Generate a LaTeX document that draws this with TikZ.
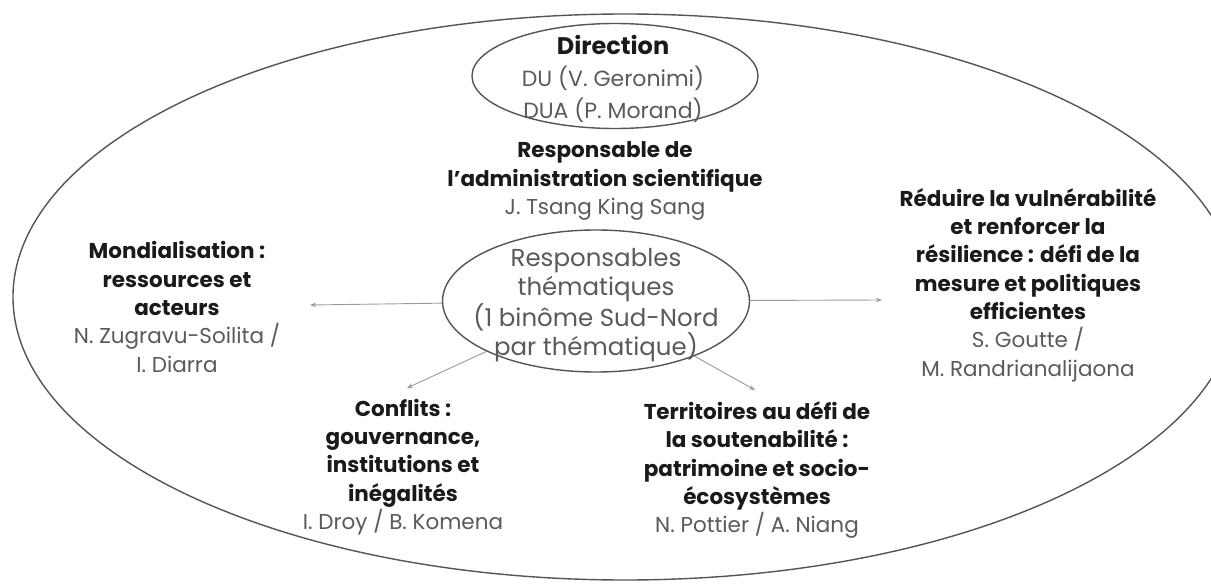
\documentclass[tikz,border=0pt]{standalone}
\usepackage{fontspec}
\setmainfont{Poppins}
\usetikzlibrary{shapes.geometric,arrows.meta}
\definecolor{ink}{HTML}{1A1A1A}
\definecolor{namegray}{HTML}{5A5A5A}
\definecolor{linegray}{HTML}{555555}
\definecolor{arrowgray}{HTML}{9A9A9A}
\tikzset{
  oval/.style={ellipse, draw=linegray, line width=1.4pt, inner sep=0pt},
  txt/.style={align=center, font=\fontsize{21.5}{28.3}\selectfont, text=ink, inner sep=0pt},
  conn/.style={draw=arrowgray, line width=0.9pt, -{Stealth[length=6pt,width=4.5pt]}},
}
\newcommand{\nm}[1]{{\color{namegray}\mdseries #1}}
\begin{document}
\begin{tikzpicture}[x=1pt,y=-1pt]
\useasboundingbox (0,0) rectangle (1211,586);
\fill[white] (0,0) rectangle (1211,586);
% outer ellipse
\node[oval, minimum width=1224pt, minimum height=566pt] (outer) at (625,297) {};
% direction ellipse
\node[oval, minimum width=286pt, minimum height=105pt] (dir) at (615,76) {};
\node[txt, font=\fontsize{22}{32}\selectfont] (dirtext) at (613,79)
  {{\fontsize{24}{32}\selectfont\bfseries Direction}\\ \nm{DU (V. Geronimi)}\\ \nm{DUA (P. Morand)}};
% administration
\node[txt] (admin) at (605,181)
  {\bfseries Responsable de\\ \bfseries l'administration scientifique\\ \nm{J. Tsang King Sang}};
% center ellipse
\node[oval, minimum width=307pt, minimum height=142pt] (ctr) at (596,301) {};
\node[txt, text=namegray, font=\fontsize{24.5}{29}\selectfont] (ctrtext) at (596,305)
  {Responsables\\ thématiques\\ (1 binôme Sud-Nord\\ par thématique)};
% themes
\node[txt] (mond) at (177,307)
  {\bfseries Mondialisation :\\ \bfseries ressources et\\ \bfseries acteurs\\ \nm{N. Zugravu-Soilita /}\\ \nm{I. Diarra}};
\node[txt] (confl) at (403,467)
  {\bfseries Conflits :\\ \bfseries gouvernance,\\ \bfseries institutions et\\ \bfseries inégalités\\ \nm{I. Droy / B. Komena}};
\node[txt] (terr) at (757,470)
  {\bfseries Territoires au défi de\\ \bfseries la soutenabilité :\\ \bfseries patrimoine et socio-\\ \bfseries écosystèmes\\ \nm{N. Pottier / A. Niang}};
\node[txt] (red) at (1028,285)
  {\bfseries Réduire la vulnérabilité\\ \bfseries et renforcer la\\ \bfseries résilience : défi de la\\ \bfseries mesure et politiques\\ \bfseries efficientes\\ \nm{S. Goutte /}\\ \nm{M. Randrianalijaona}};
% arrow ends
\coordinate (tmond) at (310,305);
\coordinate (tred) at (882,300);
\coordinate (tconfl) at (407,388);
\coordinate (tterr) at (755,390);
\draw[conn] (ctr) -- (tmond);
\draw[conn] (ctr) -- (tred);
\draw[conn] (ctr) -- (tconfl);
\draw[conn] (ctr) -- (tterr);
\end{tikzpicture}
\end{document}
